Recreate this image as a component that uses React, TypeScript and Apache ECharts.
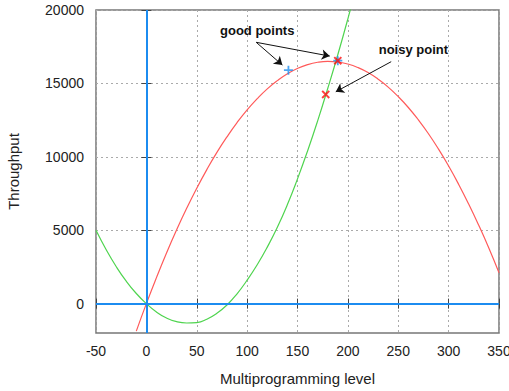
import React, { useEffect, useRef } from "react";
import * as echarts from "echarts";

const xTicks = [-50, 0, 50, 100, 150, 200, 250, 300, 350];
const yTicks = [0, 5000, 10000, 15000, 20000];

const redX = [-10, 0, 10, 20, 30, 40, 50, 60, 70, 80, 90, 100, 110, 120, 130, 140, 150, 160, 170, 180, 190, 200, 210, 220, 230, 240, 250, 260, 270, 280, 290, 300, 310, 320, 330, 340, 350];
const redY = [-1870, 0, 1770, 3450, 5020, 6490, 7860, 9130, 10300, 11360, 12330, 13200, 13960, 14630, 15190, 15660, 16020, 16280, 16440, 16500, 16460, 16320, 16080, 15740, 15290, 14750, 14100, 13360, 12510, 11570, 10520, 9370, 8120, 6770, 5320, 3770, 2100];

const greenX = [-50, -40, -30, -20, -10, 0, 10, 20, 30, 40, 50, 60, 70, 80, 90, 100, 110, 120, 130, 140, 150, 160, 170, 180, 190, 200, 210];
const greenY = [5000, 3690, 2530, 1530, 690, 0, -570, -980, -1230, -1320, -1290, -1060, -660, -90, 670, 1600, 2650, 3850, 5200, 6750, 8500, 10400, 12450, 14650, 16950, 19400, 22000];

const goodPoints = [[141, 15900], [190, 16550]];
const noisyPoints = [[190, 16550], [178, 14250]];

const arrows = [
  [[109, 17800], [135, 16250]],
  [[109, 17800], [182, 16860]],
  [[243, 16480], [188, 14430]],
];
const notes = [
  { text: "good points", at: [110, 18570] },
  { text: "noisy point", at: [265, 17340] },
];

const FONT = "'Liberation Sans', Arial, Helvetica, sans-serif";
const PLUS = "path://M4,0H6V4H10V6H6V10H4V6H0V4H4Z";

export default function App() {
  const ref = useRef<HTMLDivElement>(null);
  useEffect(() => {
    if (!ref.current) return;
    const chart = echarts.init(ref.current, undefined, { renderer: "svg" });
    const tickCommon = { show: true, inside: true, length: 5, lineStyle: { color: "#444", width: 1 } };
    const plain = (v: number) => String(v);
    chart.setOption({
      animation: false,
      backgroundColor: "#fff",
      grid: {
        left: 96, right: 10, top: 10, bottom: 58, show: true, borderColor: "#777", borderWidth: 1.5,
        backgroundColor: "transparent", containLabel: false, outerBoundsMode: "none",
      },
      xAxis: [
        {
          type: "value", min: -50, max: 350, interval: 50,
          axisLine: { show: false },
          axisTick: { ...tickCommon, customValues: xTicks },
          axisLabel: { customValues: xTicks, formatter: plain, color: "#222", fontSize: 14, fontFamily: FONT, margin: 11 },
          splitLine: { show: true, lineStyle: { color: "#aaa", type: [2, 3], width: 1 } },
          name: "Multiprogramming level", nameLocation: "middle", nameGap: 38,
          nameTextStyle: { color: "#222", fontSize: 15, fontFamily: FONT },
        },
        {
          type: "value", min: -50, max: 350, interval: 50, position: "top",
          axisLine: { show: false }, axisTick: { ...tickCommon, customValues: xTicks },
          axisLabel: { show: false }, splitLine: { show: false },
        },
      ],
      yAxis: [
        {
          type: "value", min: -2000, max: 20000,
          axisLine: { show: false },
          axisTick: { ...tickCommon, customValues: yTicks },
          axisLabel: { customValues: yTicks, formatter: plain, color: "#222", fontSize: 14, fontFamily: FONT, margin: 12 },
          splitLine: { show: true, lineStyle: { color: "#aaa", type: [2, 3], width: 1 } },
          name: "Throughput", nameLocation: "middle", nameGap: 75,
          nameTextStyle: { color: "#222", fontSize: 15, fontFamily: FONT },
        },
        {
          type: "value", min: -2000, max: 20000, position: "right",
          axisLine: { show: false }, axisTick: { ...tickCommon, customValues: yTicks },
          axisLabel: { show: false }, splitLine: { show: false },
        },
      ],
      series: [
        {
          type: "line", data: [], silent: true, z: 1,
          markLine: {
            silent: true, symbol: ["none", "none"], label: { show: false },
            lineStyle: { color: "#1c8cf0", width: 2, type: "solid" },
            data: [{ xAxis: 0 }, { yAxis: 0 }],
          },
        },
        {
          type: "line", data: redX.map((x, i) => [x, redY[i]]), showSymbol: false, smooth: true,
          lineStyle: { color: "#ff5a5a", width: 1.2 }, z: 3,
        },
        {
          type: "line", data: greenX.map((x, i) => [x, greenY[i]]), showSymbol: false, smooth: true,
          lineStyle: { color: "#4fd44f", width: 1.2 }, z: 3,
        },
        {
          type: "scatter", data: goodPoints, symbol: PLUS, symbolSize: 9,
          itemStyle: { color: "#1e8ff0" }, z: 5,
        },
        {
          type: "scatter", data: noisyPoints, symbol: PLUS, symbolSize: 10, symbolRotate: 45,
          itemStyle: { color: "#ff1010" }, z: 6,
        },
        {
          type: "line", data: [], silent: true, z: 7,
          markLine: {
            silent: true, symbol: ["none", "arrow"], symbolSize: 8, label: { show: false },
            lineStyle: { color: "#111", width: 1, type: "solid" },
            data: arrows.map(([a, b]) => [{ coord: a }, { coord: b }]),
          },
          markPoint: {
            silent: true, symbol: "circle", symbolSize: 0,
            data: notes.map((n) => ({
              coord: n.at, value: n.text,
              label: { show: true, formatter: n.text, position: "inside", color: "#111", fontWeight: "bold", fontSize: 13, fontFamily: FONT },
            })),
          },
        },
      ],
    });
    return () => chart.dispose();
  }, []);
  return <div ref={ref} style={{ position: "fixed", left: 0, top: 0, width: 509, height: 391 }} />;
}
